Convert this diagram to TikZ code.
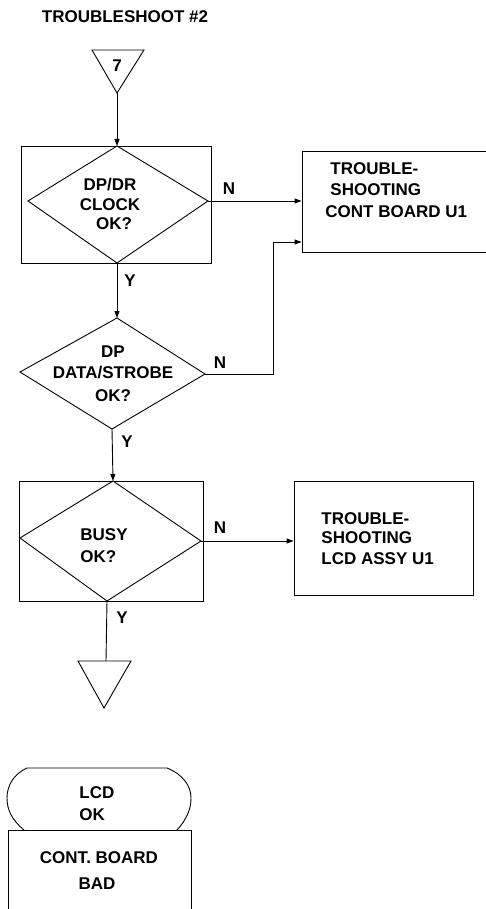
\documentclass[tikz,border=0pt]{standalone}
\usepackage{fontspec}
\setmainfont{Liberation Sans}
\usetikzlibrary{shapes.geometric,arrows.meta}
\begin{document}
\begin{tikzpicture}[x=1pt,y=-1pt,
  line width=0.9pt,
  txt/.style={font=\fontsize{17}{20}\selectfont\bfseries, inner sep=0pt},
  lbl/.style={font=\fontsize{17}{20}\selectfont\bfseries, inner sep=0pt},
  box/.style={draw, rectangle, inner sep=0pt},
  arr/.style={-{Triangle[length=7pt,width=5pt]}}]
\useasboundingbox (0,0) rectangle (486,909);
\clip (0,0) rectangle (486,909);
% title
\node[txt] (title) at (125,17) {TROUBLESHOOT \#2};
% triangle 7
\coordinate (t7a) at (92,50);
\coordinate (t7b) at (144,50);
\coordinate (t7tip) at (117,93);
\draw (t7a) -- (t7b) -- (t7tip) -- cycle;
\node[txt] (t7) at (117,66) {7};
% box 1 and diamond 1
\node[box, minimum width=190pt, minimum height=117pt] (b1) at (116,204.5) {};
\coordinate (d1n) at (117,146);
\coordinate (d1w) at (28,201);
\coordinate (d1e) at (208,201);
\coordinate (d1s) at (117,263);
\draw (d1n) -- (d1e) -- (d1s) -- (d1w) -- cycle;
\node[txt, align=center] (d1t) at (110,204) {DP/DR\\[-0.5pt]CLOCK\\[-0.5pt]\hspace{8pt}OK?};
\draw[arr] (t7tip) -- (d1n);
% box 2
\node[box, minimum width=200pt, minimum height=101pt] (b2) at (402,201.5) {};
\node[txt, anchor=west] (b2a) at (330,169) {TROUBLE-};
\node[txt, anchor=west] (b2b) at (330,190) {SHOOTING};
\node[txt, anchor=west] (b2c) at (325,212) {CONT BOARD U1};
\draw[arr] (d1e) -- (d1e -| b2.west);
\node[lbl] (n1) at (229,189) {N};
% diamond 2
\coordinate (d2n) at (117,318);
\coordinate (d2w) at (20,372);
\coordinate (d2e) at (205,374);
\coordinate (d2s) at (112,429);
\draw (d2n) -- (d2e) -- (d2s) -- (d2w) -- cycle;
\node[txt, align=center] (d2t) at (113,374) {DP\\[1pt]DATA/STROBE\\[3pt]OK?};
\draw[arr] (d1s) -- (d2n);
\node[lbl] (y1) at (130,281) {Y};
\coordinate (c1) at (273,374);
\draw[arr] (d2e) -- (c1) -- (c1 |- 0,242) -- (b2.west |- 0,242);
\node[lbl] (n2) at (220,363) {N};
% box 3 and diamond 3
\node[box, minimum width=184pt, minimum height=120pt] (b3) at (111,541) {};
\coordinate (d3n) at (113,481);
\coordinate (d3w) at (20,538);
\coordinate (d3e) at (201,541);
\coordinate (d3s) at (107,601);
\draw (d3n) -- (d3e) -- (d3s) -- (d3w) -- cycle;
\node[txt, anchor=west] (d3a) at (80,535) {BUSY};
\node[txt, anchor=west] (d3b) at (80,557) {OK?};
\draw[arr] (d2s) -- (d3n);
\node[lbl] (y2) at (127,442) {Y};
% box 4
\node[box, minimum width=179pt, minimum height=114pt] (b4) at (383.5,538) {};
\node[txt, anchor=west] (b4a) at (321,519) {TROUBLE-};
\node[txt, anchor=west] (b4b) at (321,538) {SHOOTING};
\node[txt, anchor=west] (b4c) at (321,559) {LCD ASSY U1};
\draw[arr] (d3e) -- (d3e -| b4.west);
\node[lbl] (n3) at (220,528) {N};
% exit triangle
\coordinate (tea) at (78,661);
\coordinate (teb) at (131,661);
\coordinate (tetip) at (104,708);
\coordinate (tetop) at (106,661);
\draw (tea) -- (teb) -- (tetip) -- cycle;
\draw (d3s) -- (tetop);
\node[lbl] (y3) at (122,618) {Y};
% terminator
\draw (24,830) .. controls (12,820) and (7,810) .. (7,798)
  .. controls (7,785) and (14,774) .. (27,768) -- (167,768)
  .. controls (182,774) and (191,785) .. (191,798)
  .. controls (191,810) and (186,820) .. (177,830);
\node[txt, anchor=west] (lcd1) at (79,793) {LCD};
\node[txt, anchor=west] (lcd2) at (79,815) {OK};
% bottom box
\node[box, minimum width=183pt, minimum height=100pt] (b5) at (99.5,880) {};
\node[txt] (b5a) at (99,858) {CONT. BOARD};
\node[txt] (b5b) at (97,884) {BAD};
\end{tikzpicture}
\end{document}
